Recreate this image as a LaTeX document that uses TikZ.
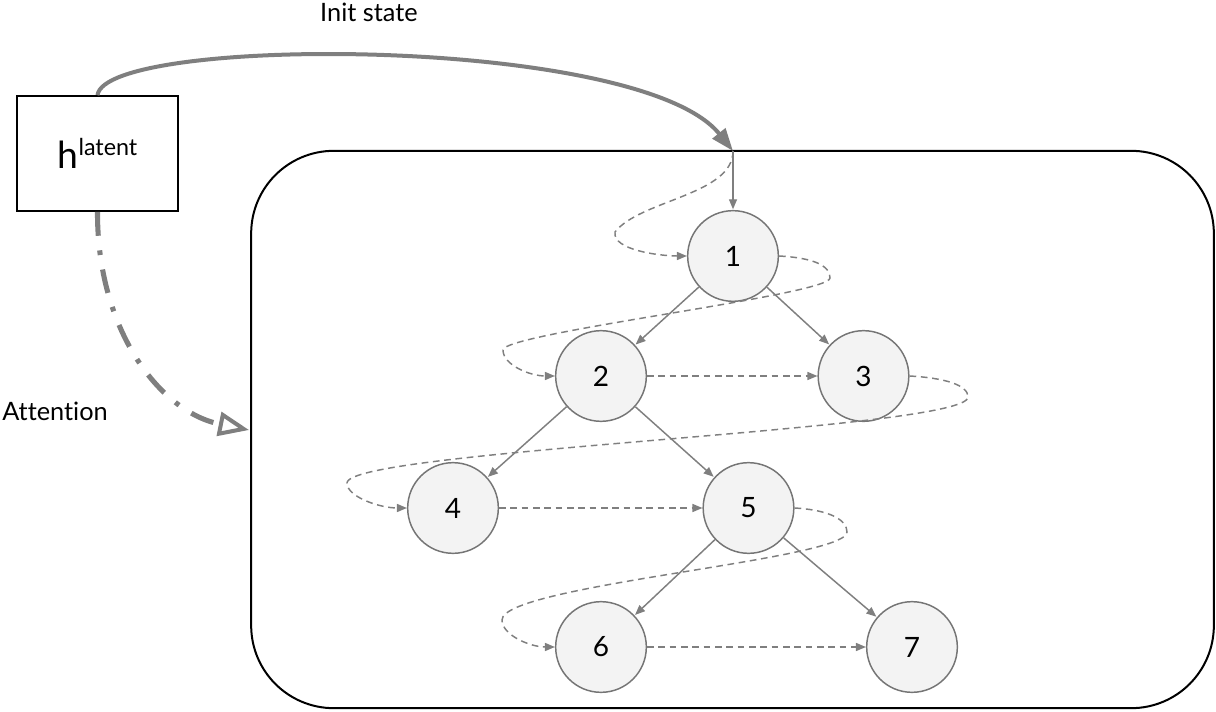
\documentclass[tikz,border=0pt]{standalone}
\usepackage{fontspec}
\setmainfont{Lato}[Ligatures=NoCommon]
\usetikzlibrary{arrows.meta}
\definecolor{lg}{HTML}{7F7F7F}
\definecolor{cf}{HTML}{F3F3F3}
\definecolor{cb}{HTML}{757575}
\tikzset{
  tnode/.style={circle, draw=cb, fill=cf, line width=1.1pt, minimum size=68pt, inner sep=0pt, font=\fontsize{21}{24}\selectfont},
  tedge/.style={draw=lg, line width=1.1pt, -{Triangle[length=7.5pt,width=6pt]}, shorten >=0.5pt},
  order/.style={draw=lg, line width=1.1pt, dash pattern=on 5pt off 3.5pt, -{Triangle[length=7.5pt,width=6pt]}},
  lbl/.style={font=\fontsize{19}{22}\selectfont}
}
\begin{document}
\begin{tikzpicture}[x=0.75pt,y=-0.75pt]
\useasboundingbox (0,0) rectangle (1216,712);
% container
\node[draw=black, line width=1.5pt, rounded corners=62pt, minimum width=722pt, minimum height=418pt, inner sep=0pt] (tree) at (732.5,429.5) {};
% latent box
\node[draw=black, line width=1.2pt, minimum width=120.75pt, minimum height=86.25pt, inner sep=0pt] (h) at (97.5,153.5)
  {{\fontsize{28}{32}\selectfont h}\raisebox{10pt}{\fontsize{17.5}{20}\selectfont latent}};
% tree nodes
\node[tnode] (n1) at (733,256) {1};
\node[tnode] (n2) at (601,376) {2};
\node[tnode] (n3) at (863.5,376) {3};
\node[tnode] (n4) at (453,508) {4};
\node[tnode] (n5) at (748.5,508) {5};
\node[tnode] (n6) at (601,647) {6};
\node[tnode] (n7) at (912,647) {7};
\coordinate (entry) at (733,151);
\coordinate (attn) at (249,430);
% labels
\node[lbl] (init) at (369,12) {Init state};
\node[lbl] (att) at (55,411) {Attention};
% init state curve
\draw[draw=lg, line width=3pt, -{Triangle[length=17pt,width=12pt]}]
  (h.north) .. controls (105,35) and (640,35) .. (entry);
% attention curve
\draw[draw=lg, line width=3.8pt, dash pattern=on 18pt off 11pt on 3.5pt off 11pt,
  -{Triangle[open,length=23pt,width=18pt,line width=3pt]}]
  (h.south) .. controls (97,330) and (160,412) .. (attn);
% entry arrow
\draw[tedge] (entry) -- (n1);
% tree edges
\draw[tedge] (n1) -- (n2);
\draw[tedge] (n1) -- (n3);
\draw[tedge] (n2) -- (n4);
\draw[tedge] (n2) -- (n5);
\draw[tedge] (n5) -- (n6);
\draw[tedge] (n5) -- (n7);
% order (dashed) connectors
\draw[order] (entry) .. controls (733,195) and (640,200) .. (615,232) .. controls (612,250) and (660,256) .. (n1.west);
\draw[order] (n1.east) .. controls (815,258) and (830,266) .. (830,278) .. controls (830,295) and (503,333) .. (503,350) .. controls (503,365) and (530,376) .. (n2.west);
\draw[order] (n2.east) -- (n3.west);
\draw[order] (n3.east) .. controls (945,378) and (968,385) .. (968,397) .. controls (968,430) and (347,450) .. (347,483) .. controls (347,497) and (380,508) .. (n4.west);
\draw[order] (n4.east) -- (n5.west);
\draw[order] (n5.east) .. controls (830,510) and (847,520) .. (847,532) .. controls (847,560) and (502,585) .. (502,620) .. controls (502,635) and (530,647) .. (n6.west);
\draw[order] (n6.east) -- (n7.west);
\end{tikzpicture}
\end{document}
